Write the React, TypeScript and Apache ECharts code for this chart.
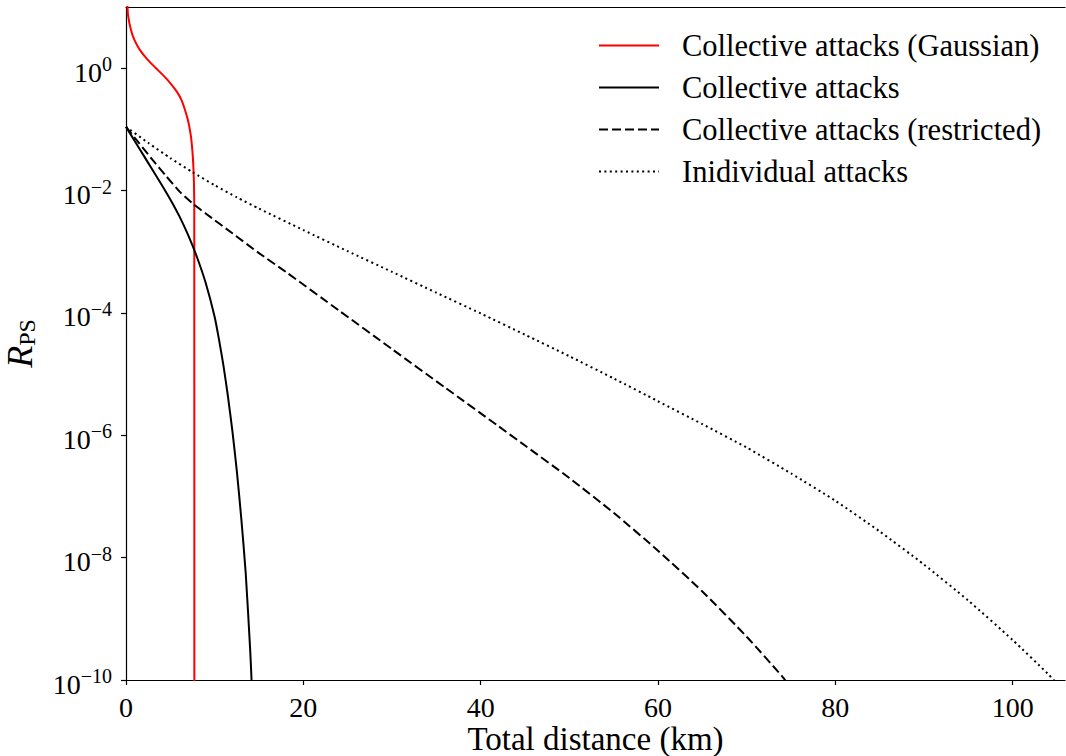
import React, { useEffect, useRef } from "react";
import * as echarts from "echarts";

const FONT = "'Liberation Serif', 'DejaVu Serif', serif";

// Collective attacks (Gaussian)
const gaussDist = [0, 0.17, 0.23, 0.56, 0.96, 1.58, 2.48, 3.38, 4.29, 5.08, 5.75, 6.26, 6.69, 6.99, 7.3, 7.48, 7.59, 7.67, 7.7, 7.71];
const gaussRps = [20, 10, 7.3, 4.2, 2.87, 1.97, 1.35, 1.0, 0.74, 0.55, 0.41, 0.3, 0.2, 0.141, 0.081, 0.046, 0.026, 0.0123, 0.0048, 1e-12];

// Collective attacks
const collDist = [0, 1, 2, 3, 4, 5, 6, 7, 8, 9, 10, 10.5, 11, 11.5, 12, 12.5, 13, 13.5, 14, 14.16, 14.3];
const collRps = [0.11, 0.0638, 0.0372, 0.0216, 0.0126, 7.16e-3, 3.85e-3, 1.88e-3, 8.2e-4, 3.05e-4, 8.6e-5, 3.6e-5, 1.35e-5, 4.3e-6, 1.17e-6, 2.6e-7, 4.4e-8, 5.6e-9, 3.2e-10, 1e-10, 3.2e-11];

// Collective attacks (restricted)
const restDist = [0, 1.5, 3, 4.5, 6.08, 7.6, 9.1, 12, 15, 18.1, 24, 30.1, 36, 42, 45, 50, 55, 60, 65, 70, 74, 74.6];
const restRps = [0.11, 0.0589, 0.0316, 0.0174, 9.5e-3, 6.0e-3, 4.1e-3, 2.0e-3, 9.5e-4, 4.6e-4, 1.1e-4, 2.5e-5, 6.0e-6, 1.41e-6, 6.8e-7, 2.0e-7, 5.4e-8, 1.3e-8, 2.8e-9, 5.1e-10, 1.15e-10, 8.9e-11];

// Individual attacks
const indDist = [0, 2.5, 5, 7.5, 10, 12.5, 15, 20, 25, 30, 35, 40, 45, 50, 55, 60, 65, 70, 75, 80, 85, 90, 95, 100, 104, 105];
const indRps = [0.11, 0.0603, 0.0339, 0.02, 0.0122, 7.76e-3, 5.07e-3, 2.26e-3, 1.02e-3, 4.68e-4, 2.14e-4, 9.8e-5, 4.4e-5, 1.96e-5, 8.5e-6, 3.6e-6, 1.52e-6, 6.3e-7, 2.38e-7, 8.5e-8, 2.68e-8, 7.7e-9, 1.98e-9, 4.5e-10, 1.25e-10, 8.7e-11];

const seriesNames = [
  "Collective attacks (Gaussian)",
  "Collective attacks",
  "Collective attacks (restricted)",
  "Inidividual attacks",
];

const xTicks = [0, 20, 40, 60, 80, 100];
const yTicks = [1e-10, 1e-8, 1e-6, 1e-4, 1e-2, 1];

const zip = (xs: number[], ys: number[]) => xs.map((x, i) => [x, ys[i]]);

export default function App() {
  const ref = useRef<HTMLDivElement>(null);

  useEffect(() => {
    if (!ref.current) return;
    const chart = echarts.init(ref.current, null, { renderer: "svg" });

    const axisLine = { show: true, lineStyle: { color: "#000", width: 1.2 } };
    const tickStyle = { color: "#000", width: 1.2 };

    const lineSeries = (name: string, data: number[][], color: string, type: any) => ({
      name,
      type: "line",
      data,
      showSymbol: false,
      symbol: "none",
      smooth: 0.2,
      clip: true,
      lineStyle: { color, width: 2, type, cap: "butt" },
      itemStyle: { color },
    });

    chart.setOption({
      animation: false,
      backgroundColor: "#fff",
      grid: { left: 126, right: 1, top: 7, bottom: 76, outerBoundsMode: "none", containLabel: false },
      legend: {
        orient: "vertical",
        left: 598,
        top: 30,
        padding: 0,
        itemWidth: 60,
        itemHeight: 14,
        itemGap: 11,
        data: seriesNames,
        itemStyle: { opacity: 0 },
        textStyle: {
          fontFamily: FONT,
          fontSize: 30.5,
          color: "#000",
          lineHeight: 30,
          padding: [0, 0, 0, 18],
        },
      },
      xAxis: [
        {
          type: "value",
          min: 0,
          max: 105.9,
          axisLine,
          axisTick: { show: true, inside: false, length: 5, lineStyle: tickStyle, customValues: xTicks },
          axisLabel: {
            customValues: xTicks,
            color: "#000",
            fontFamily: FONT,
            fontSize: 28,
            margin: 13,
            formatter: (v: number) => String(v),
          },
          splitLine: { show: false },
          name: "Total distance (km)",
          nameLocation: "middle",
          nameGap: 42,
          nameMoveOverlap: false,
          nameTextStyle: { fontFamily: FONT, fontSize: 33, color: "#000", lineHeight: 33 },
        },
        {
          type: "value",
          position: "top",
          min: 0,
          max: 105.9,
          axisLine,
          axisTick: { show: false },
          axisLabel: { show: false },
          splitLine: { show: false },
        },
      ],
      yAxis: {
        type: "log",
        logBase: 10,
        min: 1e-10,
        max: 10,
        axisLine,
        axisTick: { show: true, inside: false, length: 5, lineStyle: tickStyle, customValues: yTicks },
        minorTick: { show: false },
        splitLine: { show: false },
        axisLabel: {
          customValues: yTicks,
          margin: 14,
          formatter: (v: number) => {
            const e = Math.round(Math.log10(v));
            return `{b|10}{e|${e < 0 ? "\u2212" : ""}${Math.abs(e)}}`;
          },
          rich: {
            b: { fontFamily: FONT, fontSize: 28, color: "#000", verticalAlign: "top", lineHeight: 28, padding: [4, 0, 4, 0] },
            e: { fontFamily: FONT, fontSize: 20, color: "#000", verticalAlign: "top", lineHeight: 20 },
          },
        },
        name: "{r|R}{s|PS}",
        nameLocation: "middle",
        nameGap: 88,
        nameMoveOverlap: false,
        nameRotate: 90,
        nameTextStyle: {
          rich: {
            r: { fontFamily: FONT, fontSize: 36, fontStyle: "italic", color: "#000", verticalAlign: "top", lineHeight: 36 },
            s: { fontFamily: FONT, fontSize: 24, color: "#000", verticalAlign: "top", lineHeight: 24, padding: [13, 0, 0, 0] },
          },
        },
      },
      series: [
        lineSeries(seriesNames[0], zip(gaussDist, gaussRps), "#ff0000", "solid"),
        lineSeries(seriesNames[1], zip(collDist, collRps), "#000000", "solid"),
        lineSeries(seriesNames[2], zip(restDist, restRps), "#000000", [9, 4]),
        lineSeries(seriesNames[3], zip(indDist, indRps), "#000000", [2, 3.4]),
      ],
    });

    return () => chart.dispose();
  }, []);

  return (
    <div
      ref={ref}
      style={{ position: "fixed", left: 0, top: 0, width: 1066, height: 756, background: "#fff" }}
    />
  );
}
